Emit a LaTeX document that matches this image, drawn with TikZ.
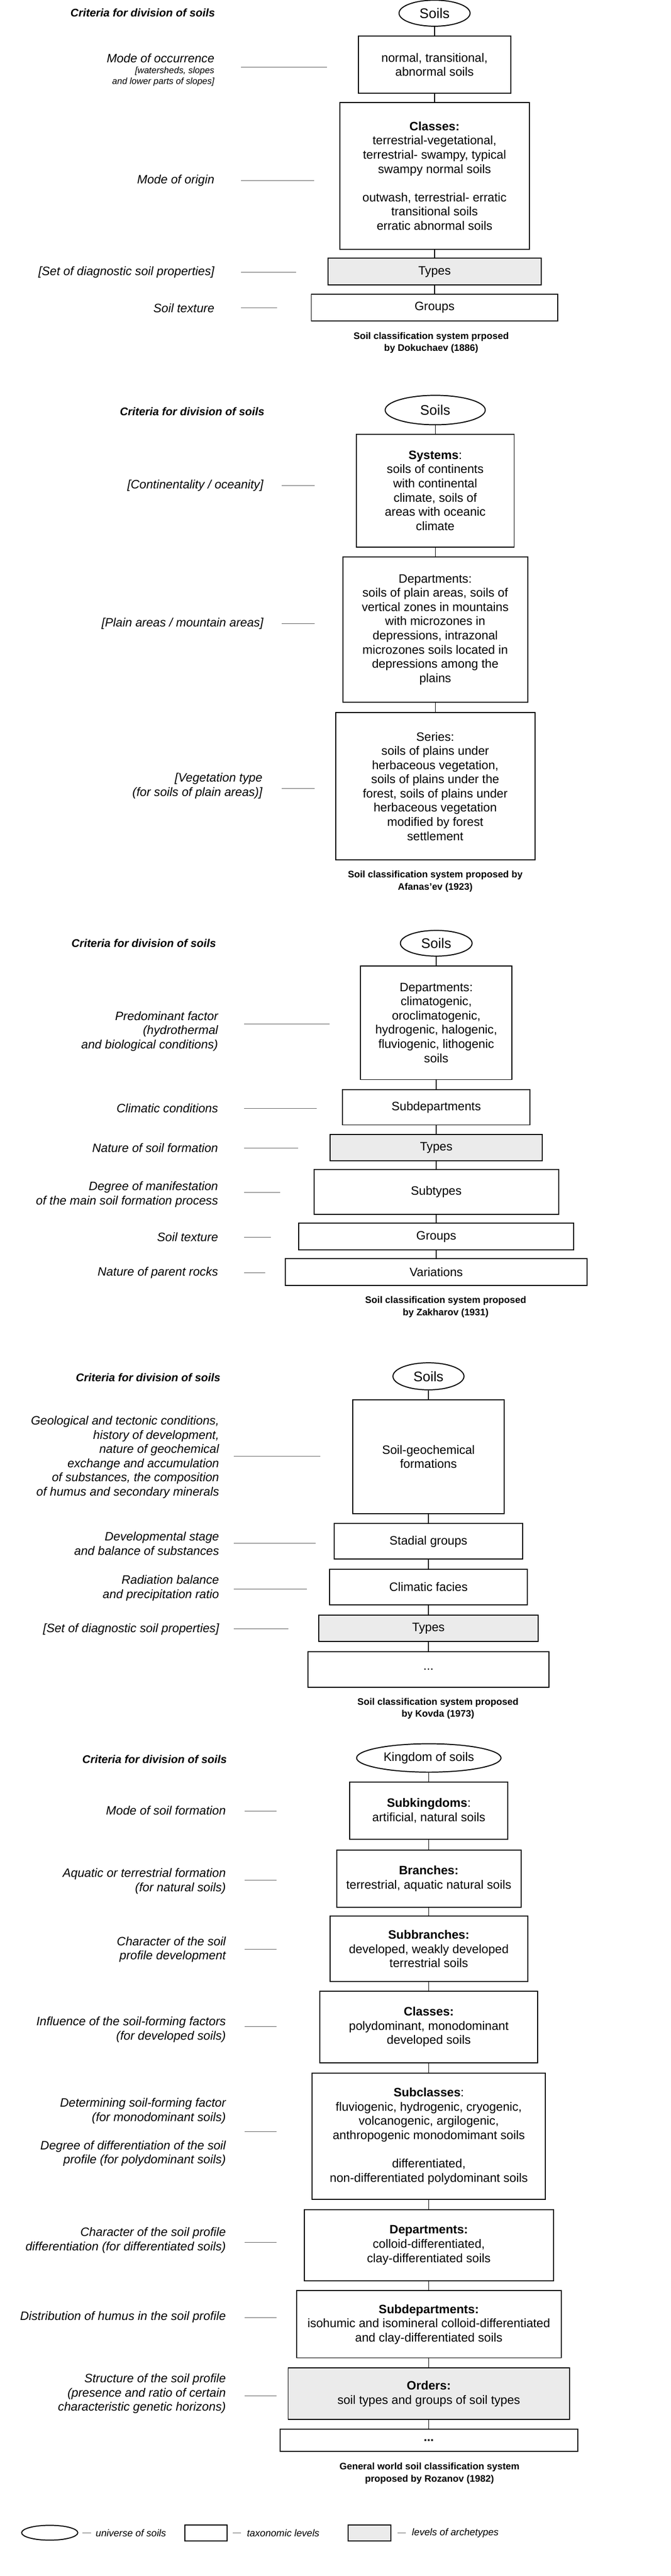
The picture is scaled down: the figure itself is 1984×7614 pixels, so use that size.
\documentclass[tikz,border=0pt]{standalone}
\usepackage{fontspec}
\setmainfont{Liberation Sans}
\usetikzlibrary{shapes.geometric}
\definecolor{archgray}{HTML}{EBEBEB}
\definecolor{leadgray}{HTML}{5A5A5A}
\tikzset{
  taxon/.style 2 args={draw, line width=3pt, minimum width=#1pt, minimum height=#2pt,
    inner sep=0pt, align=center, font=\fontsize{36}{42}\selectfont},
  archetype/.style 2 args={taxon={#1}{#2}, fill=archgray},
  universe/.style 2 args={draw, ellipse, line width=3pt, minimum width=#1pt,
    minimum height=#2pt, inner sep=0pt, font=\fontsize{41}{48}\selectfont},
  crit/.style={anchor=east, align=right, inner sep=0pt, font=\fontsize{36}{42}\selectfont\itshape},
  critnote/.style={anchor=east, align=right, inner sep=0pt, font=\fontsize{26.5}{32}\selectfont\itshape},
  heading/.style={anchor=east, inner sep=0pt, font=\fontsize{33}{40}\selectfont\bfseries\itshape},
  sysname/.style={align=center, inner sep=0pt, font=\fontsize{28}{36}\selectfont\bfseries},
  legtext/.style={anchor=west, inner sep=0pt, font=\fontsize{29}{34}\selectfont\itshape},
  leader/.style={draw=leadgray, line width=1.5pt},
  link/.style={line width=2pt}
}
\begin{document}
\begin{tikzpicture}[x=1pt, y=-1pt]
\fill[white] (0,0) rectangle (1984,7614);
\useasboundingbox (0,0) rectangle (1984,7614);

% Dokuchaev (1886)
\node[heading] (s1h) at (636,38) {Criteria for division of soils};
\node[universe={210}{77}] (s1u) at (1285,39) {Soils};
\node[taxon={450}{170}] (s1a) at (1285,191) {normal, transitional,\\abnormal soils};
\node[taxon={560}{434}] (s1b) at (1285,520) {\textbf{Classes:}\\terrestrial-vegetational,\\terrestrial- swampy, typical\\swampy normal soils\\[42pt]outwash, terrestrial- erratic\\transitional soils\\erratic abnormal soils};
\node[archetype={631}{79}] (s1c) at (1285,803) {Types};
\node[taxon={729}{78}] (s1d) at (1285,909) {Groups};
\node[sysname] (s1cap) at (1275,1013) {Soil classification system prposed\\by Dokuchaev (1886)};

\node[crit] (s1k1) at (634,172) {Mode of occurrence};
\node[critnote] (s1k1n) at (634,226) {[watersheds, slopes\\and lower parts of slopes]};
\node[crit] (s1k2) at (634,533) {Mode of origin};
\node[crit] (s1k3) at (634,805) {[Set of diagnostic soil properties]};
\node[crit] (s1k4) at (634,910) {Soil texture};
\foreach \y/\xe in {198/967, 533/929, 805/875, 910/820}
  \draw[leader] (712,\y) -- (\xe,\y);
\foreach \a/\b in {s1u/s1a, s1a/s1b, s1b/s1c, s1c/s1d}
  \draw[link] (\a.south) -- (\a.south |- \b.north);

% Afanas'ev (1923)
\node[heading] (s2h) at (782,1216) {Criteria for division of soils};
\node[universe={296}{87}] (s2u) at (1287,1212) {Soils};
\node[taxon={467}{334}] (s2a) at (1287,1450) {\textbf{Systems}:\\soils of continents\\with continental\\climate, soils of\\areas with oceanic\\climate};
\node[taxon={547}{430}] (s2b) at (1287,1861) {Departments:\\soils of plain areas, soils of\\vertical zones in mountains\\with microzones in\\depressions, intrazonal\\microzones soils located in\\depressions among the\\plains};
\node[taxon={589}{436}] (s2c) at (1287,2324) {Series:\\soils of plains under\\herbaceous vegetation,\\soils of plains under the\\forest, soils of plains under\\herbaceous vegetation\\modified by forest\\settlement};
\node[sysname] (s2cap) at (1287,2605) {Soil classification system proposed by\\Afanas'ev (1923)};

\node[crit] (s2k1) at (779,1435) {[Continentality / oceanity]};
\node[crit] (s2k2) at (779,1843) {[Plain areas / mountain areas]};
\node[crit] (s2k3) at (776,2323) {[Vegetation type\\(for soils of plain areas)]};
\foreach \y in {1435, 1843, 2330}
  \draw[leader] (833,\y) -- (931,\y);
\foreach \a/\b in {s2u/s2a, s2a/s2b, s2b/s2c}
  \draw[link] (\a.south) -- (\a.south |- \b.north);

% Zakharov (1931)
\node[heading] (s3h) at (639,2788) {Criteria for division of soils};
\node[universe={212}{76}] (s3u) at (1290,2788) {Soils};
\node[taxon={447}{336}] (s3a) at (1290,3023) {Departments:\\climatogenic,\\oroclimatogenic,\\hydrogenic, halogenic,\\fluviogenic, lithogenic\\soils};
\node[taxon={555}{104}] (s3b) at (1290,3273) {Subdepartments};
\node[archetype={627}{78}] (s3c) at (1290,3392) {Types};
\node[taxon={723}{133}] (s3d) at (1290,3523) {Subtypes};
\node[taxon={813}{79}] (s3e) at (1290,3655) {Groups};
\node[taxon={893}{79}] (s3f) at (1290,3760) {Variations};
\node[sysname] (s3cap) at (1318,3863) {Soil classification system proposed\\by Zakharov (1931)};

\node[crit] (s3k1) at (645,3048) {Predominant factor\\(hydrothermal\\and biological conditions)};
\node[crit] (s3k2) at (645,3276) {Climatic conditions};
\node[crit] (s3k3) at (645,3393) {Nature of soil formation};
\node[crit] (s3k4) at (645,3530) {Degree of manifestation\\of the main soil formation process};
\node[crit] (s3k5) at (645,3657) {Soil texture};
\node[crit] (s3k6) at (645,3762) {Nature of parent rocks};
\foreach \y/\xe in {3027/975, 3276/937, 3393/882, 3525/828, 3657/801, 3762/784}
  \draw[leader] (722,\y) -- (\xe,\y);
\foreach \a/\b in {s3u/s3a, s3a/s3b, s3b/s3c, s3c/s3d, s3d/s3e, s3e/s3f}
  \draw[link] (\a.south) -- (\a.south |- \b.north);

% Kovda (1973)
\node[heading] (s4h) at (652,4071) {Criteria for division of soils};
\node[universe={210}{80}] (s4u) at (1267,4068) {Soils};
\node[taxon={447}{337}] (s4a) at (1267,4306) {Soil-geochemical\\formations};
\node[taxon={556}{105}] (s4b) at (1267,4556) {Stadial groups};
\node[taxon={586}{104}] (s4c) at (1267,4691) {Climatic facies};
\node[archetype={650}{77}] (s4d) at (1267,4813) {Types};
\node[taxon={712}{105}] (s4e) at (1267,4934) {...};
\node[sysname] (s4cap) at (1295,5050) {Soil classification system proposed\\by Kovda (1973)};

\node[crit] (s4k1) at (648,4307) {Geological and tectonic conditions,\\history of development,\\nature of geochemical\\exchange and accumulation\\of substances, the composition\\of humus and secondary minerals};
\node[crit] (s4k2) at (648,4562) {Developmental stage\\and balance of substances};
\node[crit] (s4k3) at (648,4694) {Radiation balance\\and precipitation ratio};
\node[crit] (s4k4) at (648,4815) {[Set of diagnostic soil properties]};
\foreach \y/\xe in {4304/947, 4562/934, 4697/908, 4815/852}
  \draw[leader] (691,\y) -- (\xe,\y);
\foreach \a/\b in {s4u/s4a, s4a/s4b, s4b/s4c, s4c/s4d, s4d/s4e}
  \draw[link] (\a.south) -- (\a.south |- \b.north);

% Rozanov (1982)
\node[heading] (s5h) at (671,5200) {Criteria for division of soils};
\node[universe={427}{84}, font=\fontsize{36.5}{42}\selectfont] (s5u) at (1268,5196) {Kingdom of soils};
\node[taxon={468}{169}] (s5a) at (1268,5352) {\textbf{Subkingdoms}:\\artificial, natural soils};
\node[taxon={545}{170}] (s5b) at (1268,5553) {\textbf{Branches:}\\terrestrial, aquatic natural soils};
\node[taxon={585}{193}] (s5c) at (1268,5760) {\textbf{Subbranches:}\\developed, weakly developed\\terrestrial soils};
\node[taxon={645}{211}] (s5d) at (1268,5991) {\textbf{Classes:}\\polydominant, monodominant\\developed soils};
\node[taxon={689}{374}] (s5e) at (1268,6314) {\textbf{Subclasses}:\\fluviogenic, hydrogenic, cryogenic,\\volcanogenic, argilogenic,\\anthropogenic monodomimant soils\\[42pt]differentiated,\\non-differentiated polydominant soils};
\node[taxon={737}{210}] (s5f) at (1268,6636) {\textbf{Departments:}\\colloid-differentiated,\\clay-differentiated soils};
\node[taxon={783}{198}] (s5g) at (1268,6870) {\textbf{Subdepartments:}\\isohumic and isomineral colloid-differentiated\\and clay-differentiated soils};
\node[archetype={832}{153}] (s5h2) at (1268,7075) {\textbf{Orders:}\\soil types and groups of soil types};
\node[taxon={880}{65}] (s5i) at (1268,7213) {\textbf{...}};
\node[sysname] (s5cap) at (1270,7310) {General world soil classification system\\proposed by Rozanov (1982)};

\node[crit] (s5k1) at (668,5351) {Mode of soil formation};
\node[crit] (s5k2) at (668,5560) {Aquatic or terrestrial formation\\(for natural soils)};
\node[crit] (s5k3) at (668,5762) {Character of the soil\\profile development};
\node[crit] (s5k4) at (668,5999) {Influence of the soil-forming factors\\(for developed soils)};
\node[crit] (s5k5) at (668,6302) {Determining soil-forming factor\\(for monodominant soils)\\[42pt]Degree of differentiation of the soil\\profile (for polydominant soils)};
\node[crit] (s5k6) at (668,6622) {Character of the soil profile\\differentiation (for differentiated soils)};
\node[crit] (s5k7) at (668,6849) {Distribution of humus in the soil profile};
\node[crit] (s5k8) at (668,7075) {Structure of the soil profile\\(presence and ratio of certain\\characteristic genetic horizons)};
\foreach \y in {5353, 5557, 5761, 5990, 6301, 6628, 6850, 7081}
  \draw[leader] (723,\y) -- (818,\y);
\foreach \a/\b in {s5u/s5a, s5a/s5b, s5b/s5c, s5c/s5d, s5d/s5e, s5e/s5f, s5f/s5g, s5g/s5h2, s5h2/s5i}
  \draw[link] (\a.south) -- (\a.south |- \b.north);

% legend
\node[universe={166}{44}] (lg1) at (147,7486) {};
\node[legtext] (lg1t) at (283,7487) {universe of soils};
\node[taxon={124}{47}] (lg2) at (609,7487) {};
\node[legtext] (lg2t) at (730,7487) {taxonomic levels};
\node[archetype={127}{47}] (lg3) at (1093,7487) {};
\node[legtext] (lg3t) at (1218,7487) {levels of archetypes};
\foreach \xa/\xb in {243/269, 688/713, 1176/1200}
  \draw[leader] (\xa,7487) -- (\xb,7487);

\end{tikzpicture}
\end{document}
